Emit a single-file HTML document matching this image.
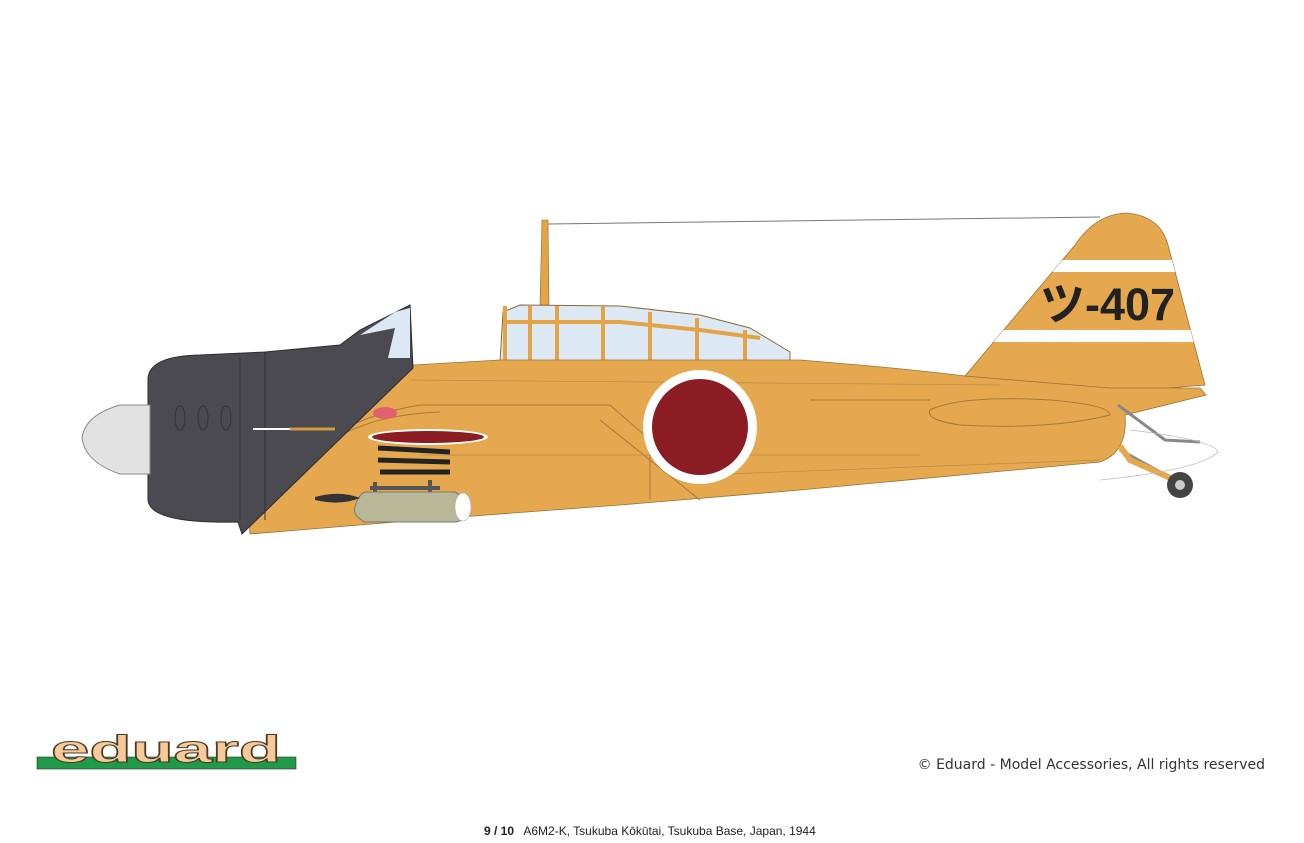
<!DOCTYPE html>
<html><head><meta charset="utf-8"><style>
html,body{margin:0;padding:0;background:#fff;width:1304px;height:843px;overflow:hidden}
</style></head><body>
<svg width="1304" height="843" viewBox="0 0 1304 843" xmlns="http://www.w3.org/2000/svg">
<defs>
<clipPath id="fin"><path d="M965,376 L1075,245 Q1095,215 1125,213 Q1160,215 1168,245 L1205,385 L1120,392 Z"/></clipPath>
</defs>
<line x1="548" y1="224" x2="1100" y2="217" stroke="#777" stroke-width="1"/>
<path d="M540,305 L542,220 L548,220 L549,305 Z" fill="#E3A448" stroke="#8a6a30" stroke-width="0.6"/>
<path d="M500,362 L503,312 L520,305 L620,306 L700,315 L750,328 L790,352 L790,364 Z" fill="#DCE9F4" stroke="#8a6a30" stroke-width="1"/>
<g stroke="#E3A448" stroke-width="4" fill="none">
<line x1="505" y1="306" x2="505" y2="362"/>
<line x1="530" y1="306" x2="530" y2="362"/><line x1="557" y1="306" x2="557" y2="362"/>
<line x1="603" y1="306" x2="603" y2="362"/><line x1="650" y1="312" x2="650" y2="362"/>
<line x1="697" y1="318" x2="697" y2="362"/><line x1="745" y1="330" x2="745" y2="362"/>
<path d="M503,322 L620,322 L700,330 L760,338"/>
</g>
<path d="M965,376 L1075,245 Q1095,215 1125,213 Q1160,215 1168,245 L1205,385 L1120,392 Z" fill="#E6A84E" stroke="#9a7236" stroke-width="0.8"/>
<g clip-path="url(#fin)" fill="#fff">
<rect x="1000" y="260" width="220" height="12"/>
<rect x="960" y="330" width="260" height="12"/>
</g>
<text x="1040" y="320" font-family="Liberation Sans, 'Noto Sans CJK JP', sans-serif" font-weight="bold" font-size="45" fill="#222">ツ-407</text>
<path d="M240,355 L405,345 L413,365 L500,360 L800,360 Q900,368 965,376 L1110,388 L1200,388 L1206,395 L1125,415 Q1128,452 1100,462 L800,490 L620,505 L420,520 L250,534 Z" fill="#E6A84E" stroke="#9a7236" stroke-width="0.8"/>
<path d="M300,470 Q330,420 420,405 L610,405 L650,440 L650,500" fill="none" stroke="#a47a3a" stroke-width="1"/>
<path d="M320,450 Q360,415 440,412 M600,420 L700,500 M810,400 L930,400 M930,410 Q960,395 1050,400 Q1110,405 1110,415 Q1050,430 960,425 Q925,420 930,410" fill="none" stroke="#a47a3a" stroke-width="1"/>
<path d="M410,380 L1000,385 M420,455 L920,455 M700,475 L1100,460" stroke="#b88a48" stroke-width="0.7" fill="none"/>
<path d="M148,378 Q150,356 200,355 L265,352 L340,345 L360,330 L410,305 L413,368 L242,534 L238,522 Q150,524 148,500 Z" fill="#4A4A50" stroke="#2c2c30" stroke-width="1"/>
<path d="M360,335 L395,312 L410,308 L410,358 L388,358 L395,328 Z" fill="#DCE9F4"/>
<g stroke="#333" stroke-width="1" fill="none">
<line x1="265" y1="352" x2="265" y2="520"/><line x1="240" y1="358" x2="240" y2="520"/>
<ellipse cx="180" cy="418" rx="5" ry="12"/><ellipse cx="203" cy="418" rx="5" ry="12"/><ellipse cx="226" cy="418" rx="5" ry="12"/>
</g>
<line x1="253" y1="429" x2="290" y2="429" stroke="#fff" stroke-width="2"/>
<line x1="290" y1="429" x2="335" y2="429" stroke="#d49a40" stroke-width="3"/>
<path d="M150,405 L120,405 Q85,415 82,438 Q85,462 120,474 L150,474 Z" fill="#E2E2E2" stroke="#888" stroke-width="1"/>
<ellipse cx="428" cy="437" rx="60" ry="8" fill="#fff"/>
<ellipse cx="428" cy="437" rx="56" ry="6" fill="#8B1C24"/>
<ellipse cx="385" cy="413" rx="12" ry="6" fill="#e06070"/>
<path d="M378,448 L450,452 M378,460 L450,462 M380,472 L450,472" stroke="#222" stroke-width="5"/>
<path d="M370,488 L440,488 M375,482 L375,495 M430,480 L430,495" stroke="#555" stroke-width="4"/>
<path d="M365,492 L455,492 Q470,500 470,507 Q470,520 455,522 L365,522 Q352,515 355,507 Q358,495 365,492Z" fill="#B8B898" stroke="#777" stroke-width="1"/>
<ellipse cx="463" cy="507" rx="8" ry="14" fill="#fff" stroke="#aaa" stroke-width="0.6"/>
<path d="M315,497 Q340,490 360,498 Q340,506 315,500Z" fill="#333"/>
<circle cx="700" cy="427" r="57" fill="#fff"/>
<circle cx="700" cy="427" r="48" fill="#8B1C24"/>
<path d="M1118,405 L1165,440 L1200,442 M1120,450 L1175,480" stroke="#888" stroke-width="3" fill="none"/>
<path d="M1120,446 L1130,460 L1175,480" stroke="#E6A84E" stroke-width="6" fill="none"/>
<path d="M1130,430 Q1215,440 1218,452 Q1200,470 1100,480" stroke="#bbb" stroke-width="0.8" fill="none"/>
<circle cx="1180" cy="485" r="13" fill="#444"/>
<circle cx="1180" cy="485" r="5" fill="#ccc"/>
<rect x="37" y="757" width="259" height="12" fill="#1E9A48" stroke="#333" stroke-width="0.6"/>
<text x="166" y="762" text-anchor="middle" font-family="Liberation Sans, sans-serif" font-weight="bold" font-size="38" fill="#F5C99A" stroke="#4a3a20" stroke-width="1" textLength="230" lengthAdjust="spacingAndGlyphs">eduard</text>
<text x="1265" y="769" text-anchor="end" font-family="DejaVu Sans, sans-serif" font-size="14" fill="#333">© Eduard - Model Accessories, All rights reserved</text>
<text x="484" y="835" font-family="Liberation Sans, sans-serif" font-size="12" fill="#222" xml:space="preserve"><tspan font-weight="bold">9 / 10</tspan>   A6M2-K, Tsukuba Kōkūtai, Tsukuba Base, Japan, 1944</text>
</svg>
</body></html>
